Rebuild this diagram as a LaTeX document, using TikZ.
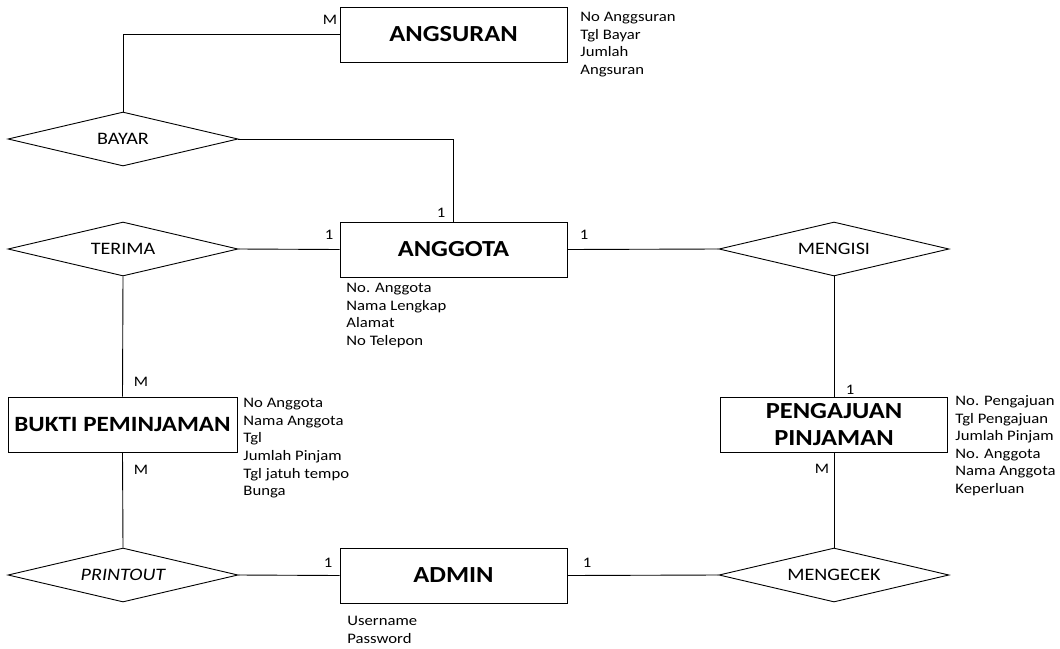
\documentclass[tikz,border=0pt]{standalone}
\usepackage{fontspec}
\setmainfont{Carlito}[FakeStretch=1.15]
\usetikzlibrary{shapes.geometric}

\begin{document}
\begin{tikzpicture}[x=1pt,y=-1pt,
  entitas/.style={draw,rectangle,minimum width=227pt,minimum height=55pt,inner sep=0pt,align=center,font=\fontsize{23}{27}\selectfont\bfseries},
  relasi/.style={draw,diamond,aspect=4.26,minimum width=230pt,minimum height=54pt,inner sep=0pt,font=\fontsize{17.5}{19}\selectfont},
  atribut/.style={anchor=north west,inner sep=0pt,align=left,font=\fontsize{14.5}{17.6}\selectfont},
  kardinal/.style={inner sep=0pt,font=\fontsize{14.5}{17}\selectfont}]
  \useasboundingbox (0,0) rectangle (1060,648);
  \tikzset{every path/.style={line width=0.9pt}}

  \node[entitas] (angsuran) at (453.5,34.5) {ANGSURAN};
  \node[entitas] (anggota) at (453.5,249.5) {ANGGOTA};
  \node[entitas,minimum width=229pt,font=\fontsize{21.8}{27}\selectfont\bfseries] (bukti) at (122.5,424.5) {BUKTI PEMINJAMAN};
  \node[entitas] (pengajuan) at (834,424.5) {PENGAJUAN\\PINJAMAN};
  \node[entitas] (admin) at (453.5,575.5) {ADMIN};

  \node[relasi] (bayar) at (123,139) {BAYAR};
  \node[relasi] (terima) at (123,249) {TERIMA};
  \node[relasi] (mengisi) at (834,249) {MENGISI};
  \node[relasi] (printout) at (123,575) {\itshape PRINTOUT};
  \node[relasi] (mengecek) at (834,575) {MENGECEK};

  \draw (angsuran.west) -| (bayar.north);
  \draw (bayar.east) -| (anggota.north);
  \draw (terima.east) -- (anggota.west);
  \draw (anggota.east) -- (mengisi.west);
  \draw (terima.south) -- (bukti.north);
  \draw (bukti.south) -- (printout.north);
  \draw (mengisi.south) -- (pengajuan.north);
  \draw (pengajuan.south) -- (mengecek.north);
  \draw (printout.east) -- (admin.west);
  \draw (admin.east) -- (mengecek.west);

  \node[kardinal] (k1) at (330,20) {M};
  \node[kardinal] (k2) at (441,213) {1};
  \node[kardinal] (k3) at (329,235) {1};
  \node[kardinal] (k4) at (584,235) {1};
  \node[kardinal] (k5) at (141,382) {M};
  \node[kardinal] (k6) at (141,470) {M};
  \node[kardinal] (k7) at (850,390) {1};
  \node[kardinal] (k8) at (822,469) {M};
  \node[kardinal] (k9) at (328,563) {1};
  \node[kardinal] (k10) at (587,563) {1};

  \node[atribut] (at-angsuran) at (580,12) {No Anggsuran\\Tgl Bayar\\Jumlah\\Angsuran};
  \node[atribut] (at-anggota) at (346,283) {No. Anggota\\Nama Lengkap\\Alamat\\No Telepon};
  \node[atribut] (at-bukti) at (243,398) {No Anggota\\Nama Anggota\\Tgl\\Jumlah Pinjam\\Tgl jatuh tempo\\Bunga};
  \node[atribut] (at-pengajuan) at (955,395) {No. Pengajuan\\Tgl Pengajuan\\Jumlah Pinjam\\No. Anggota\\Nama Anggota\\Keperluan};
  \node[atribut] (at-admin) at (347,616) {Username\\Password};
\end{tikzpicture}
\end{document}
